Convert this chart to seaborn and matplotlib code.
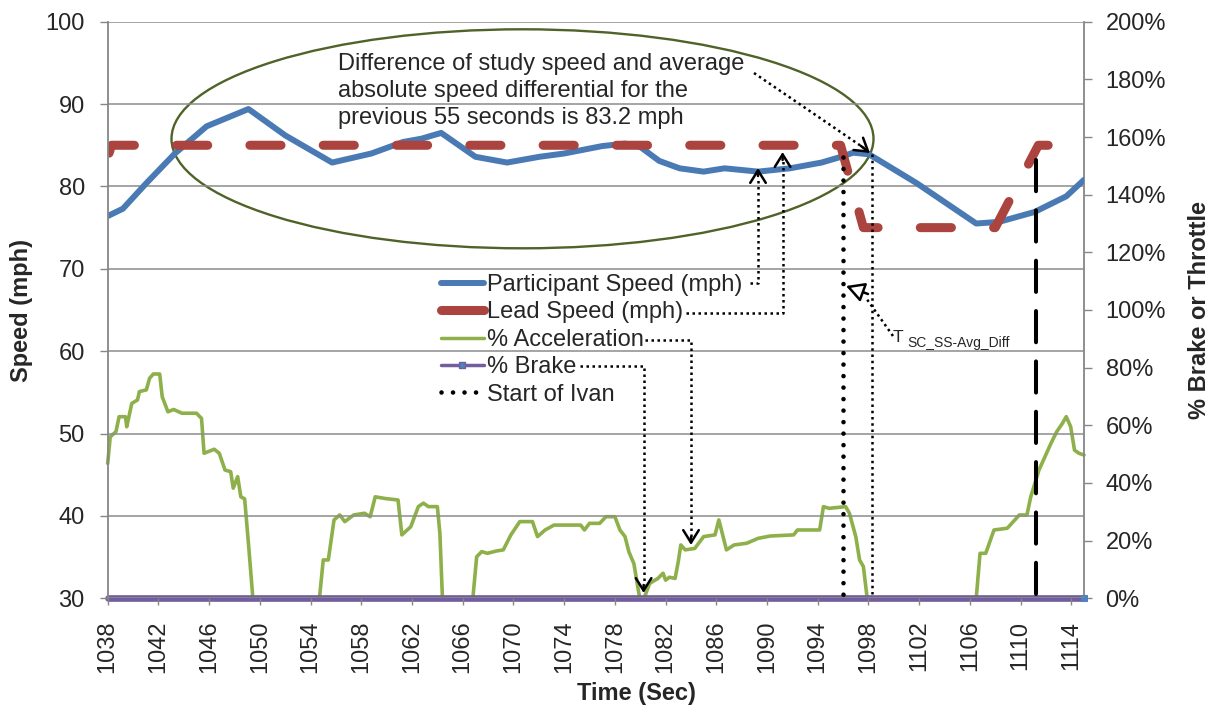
import matplotlib
matplotlib.use('Agg')
import matplotlib.pyplot as plt
import seaborn as sns
from matplotlib.lines import Line2D
from matplotlib.patches import Ellipse

# ---- data ----
time_speed = [1038.0, 1039.2, 1041.05, 1043.3, 1045.8, 1049.1, 1052.0, 1055.7, 1058.8, 1061.3,
              1062.75, 1064.3, 1067.0, 1069.5, 1072.05, 1074.0, 1077.0, 1078.8, 1080.0, 1081.5,
              1083.1, 1085.0, 1086.65, 1089.3, 1091.8, 1094.3, 1095.85, 1096.8, 1098.05, 1101.8,
              1106.5, 1108.3, 1111.1, 1113.6, 1115.0]
participant_speed = [76.4, 77.3, 80.4, 84.0, 87.3, 89.4, 86.2, 82.9, 84.0, 85.4,
                     85.8, 86.5, 83.6, 82.9, 83.6, 84.0, 84.9, 85.2, 84.8, 83.1,
                     82.2, 81.8, 82.2, 81.8, 82.2, 82.9, 83.6, 84.1, 83.9, 80.4,
                     75.5, 75.7, 76.9, 78.8, 80.8]

time_lead = [1038.0, 1038.3, 1095.8, 1097.6, 1108.0, 1111.4, 1115.0]
lead_speed = [83.5, 85.0, 85.0, 75.0, 75.0, 85.0, 85.0]

time_accel = [1038.0, 1038.2, 1038.65, 1038.9, 1039.4, 1039.5, 1039.9, 1040.35, 1040.5, 1041.05,
              1041.3, 1041.6, 1042.1, 1042.3, 1042.75, 1043.2, 1043.85, 1045.0, 1045.4, 1045.6,
              1046.4, 1046.8, 1047.25, 1047.7, 1047.9, 1048.25, 1048.5, 1048.8, 1049.1, 1049.45,
              1054.7, 1055.0, 1055.4, 1055.85, 1056.3, 1056.7, 1057.4, 1058.25, 1058.7, 1059.1,
              1059.9, 1060.9, 1061.2, 1061.9, 1062.5, 1062.9, 1063.3, 1064.0, 1064.2, 1064.4,
              1066.8, 1067.1, 1067.5, 1067.95, 1068.65, 1069.2, 1069.8, 1070.5, 1071.5, 1071.9,
              1072.5, 1073.2, 1075.3, 1075.6, 1076.0, 1076.8, 1077.3, 1078.0, 1078.4, 1078.8,
              1079.1, 1079.5, 1079.95, 1080.3, 1080.75, 1081.4, 1081.8, 1082.0, 1082.3, 1082.75,
              1083.0, 1083.2, 1083.55, 1084.3, 1085.0, 1085.9, 1086.2, 1086.5, 1086.8, 1087.4,
              1088.4, 1089.3, 1090.25, 1092.1, 1092.4, 1094.15, 1094.45, 1094.9, 1096.2, 1096.5,
              1097.0, 1097.3, 1097.6, 1097.9, 1106.5, 1106.8, 1107.25, 1107.9, 1108.95, 1109.3,
              1109.9, 1110.5, 1110.8, 1111.45, 1112.4, 1112.85, 1113.3, 1113.6, 1113.95, 1114.25,
              1114.6, 1115.0]
accel_pct = [46.8, 56.0, 57.8, 63.0, 63.0, 59.5, 67.6, 68.8, 71.7, 72.3,
             76.3, 77.8, 77.8, 69.9, 64.7, 65.5, 64.2, 64.2, 62.4, 50.3,
             51.7, 50.3, 44.5, 43.9, 38.2, 42.2, 35.2, 34.5, 19.1, 0.0,
             0.0, 13.3, 13.3, 27.2, 28.9, 26.6, 28.9, 29.5, 28.3, 35.2,
             34.6, 34.1, 22.0, 24.8, 31.8, 33.0, 31.8, 31.8, 22.5, 0.0,
             0.0, 14.4, 16.2, 15.6, 16.4, 16.8, 22.0, 26.6, 26.6, 21.4,
             23.7, 25.4, 25.4, 23.7, 26.0, 26.0, 28.3, 28.3, 23.7, 21.4,
             16.2, 12.0, 0.3, 0.0, 5.2, 6.9, 8.7, 6.3, 7.3, 6.9,
             12.7, 18.5, 16.8, 17.3, 21.4, 22.0, 27.2, 22.0, 16.8, 18.5,
             19.1, 20.8, 21.6, 22.0, 23.7, 23.7, 31.8, 31.2, 31.8, 29.5,
             21.4, 13.3, 11.0, 0.0, 0.0, 15.6, 15.6, 23.7, 24.3, 26.0,
             28.9, 28.9, 35.2, 44.5, 53.8, 57.8, 60.7, 63.0, 59.5, 51.4,
             50.3, 49.7]

time_brake = [1038.0, 1115.0]
brake_pct = [0.0, 0.0]

ivan_time = [1096.0, 1096.0]
ivan_speed = [83.6, 30.0]
study_time = [1111.2, 1111.2]
study_speed = [83.2, 30.0]
tsc_time = [1098.3, 1098.3]
tsc_speed = [83.9, 30.0]

x_ticks = list(range(1038, 1115, 4))
speed_ticks = list(range(30, 101, 10))
pct_ticks = list(range(0, 201, 20))

legend_labels = ['Participant Speed (mph)', 'Lead Speed (mph)', '% Acceleration',
                 '% Brake', 'Start of Ivan']
note_text = ('Difference of study speed and average\n'
             'absolute speed differential for the\n'
             'previous 55 seconds is 83.2 mph')

BLUE = '#4a7ab4'
RED = '#ab433e'
GREEN = '#8db04a'
PURPLE = '#725e9c'
OLIVE = '#4f6228'
GRID = '#8c8c8c'
AXIS = '#868686'

W, H = 1220, 708


def fp(x, y):
    # reference pixel -> figure fraction
    return (x / W, 1 - y / H)


sns.set_style('white')
plt.rcParams['font.family'] = ['Liberation Sans', 'DejaVu Sans']

fig = plt.figure(figsize=(W / 100, H / 100), dpi=100)
left, right, top, bottom = 107.7, 1084.0, 21.7, 598.3
ax = fig.add_axes([left / W, 1 - bottom / H, (right - left) / W, (bottom - top) / H])
ax2 = ax.twinx()
ax.set_zorder(ax2.get_zorder() + 1)
ax.patch.set_visible(False)

# secondary axis series (percent)
sns.lineplot(x=time_accel, y=accel_pct, ax=ax2, color=GREEN, lw=2.6,
             estimator=None, sort=False)
sns.lineplot(x=time_brake, y=brake_pct, ax=ax2, color=PURPLE, lw=4.8,
             estimator=None, sort=False, marker='s', markersize=4.5, markevery=[1],
             markerfacecolor='#4f81bd', markeredgecolor='#4f81bd')
for ln in ax2.lines:
    ln.set_clip_on(False)
ax2.lines[-1].set_zorder(3)

# primary axis series (mph)
sns.lineplot(x=time_speed, y=participant_speed, ax=ax, color=BLUE, lw=4.3,
             estimator=None, sort=False)
sns.lineplot(x=time_lead, y=lead_speed, ax=ax, color=RED, lw=6.5,
             estimator=None, sort=False)
ax.lines[-1].set_linestyle((7.6, (3.45, 4.67)))
ax.lines[-1].set_dash_capstyle('round')
sns.lineplot(x=ivan_time, y=ivan_speed, ax=ax, color='black', lw=3.3,
             estimator=None, sort=False)
ax.lines[-1].set_linestyle((0, (0.01, 2.5)))
ax.lines[-1].set_dash_capstyle('round')
sns.lineplot(x=study_time, y=study_speed, ax=ax, color='black', lw=2.9,
             estimator=None, sort=False)
ax.lines[-1].set_linestyle((0, (7.75, 4.75)))
ax.lines[-1].set_dash_capstyle('round')
sns.lineplot(x=tsc_time, y=tsc_speed, ax=ax, color='black', lw=1.8,
             estimator=None, sort=False)
ax.lines[-1].set_linestyle((0, (1, 1.5)))

# axes styling
ax.set_xlim(1038, 1115)
ax.set_ylim(30, 100)
ax2.set_ylim(0, 200)
ax.set_xticks(x_ticks)
ax.set_xticklabels([str(t) for t in x_ticks], rotation=90)
ax.set_yticks(speed_ticks)
ax2.set_yticks(pct_ticks)
ax2.set_yticklabels([f'{p}%' for p in pct_ticks])
ax.yaxis.grid(True, color=GRID, lw=1.1)
ax.xaxis.grid(False)

for a in (ax, ax2):
    for s in a.spines.values():
        s.set_visible(False)
ax.spines['left'].set_visible(True)
ax2.spines['bottom'].set_visible(True)
ax2.spines['right'].set_visible(True)
for s in (ax.spines['left'], ax2.spines['bottom'], ax2.spines['right']):
    s.set_color(AXIS)
    s.set_linewidth(1.3)

ax.tick_params(axis='y', direction='out', length=5.5, width=1, color=AXIS,
               labelsize=17, pad=11, left=True)
ax.tick_params(axis='x', direction='out', length=5, width=1, color=AXIS,
               labelsize=17, pad=11, bottom=True)
ax2.tick_params(axis='y', direction='out', length=5.5, width=1, color=AXIS,
                labelsize=17, pad=10, right=True)

ax.set_xlabel('Time (Sec)', fontsize=17, fontweight='bold')
ax.xaxis.set_label_coords((636 - left) / (right - left), (bottom - 682) / (bottom - top))
ax.set_ylabel('Speed (mph)', fontsize=17, fontweight='bold')
ax.yaxis.set_label_coords((33 - left) / (right - left), 0.5)
ax2.set_ylabel('% Brake or Throttle', fontsize=17, fontweight='bold')
ax2.yaxis.set_label_coords((1188 - left) / (right - left), 0.5)

# legend
handles = [
    Line2D([], [], color=BLUE, lw=4.3),
    Line2D([], [], color=RED, lw=6.5, solid_capstyle='round'),
    Line2D([], [], color=GREEN, lw=2.5),
    Line2D([], [], color=PURPLE, lw=2.5, marker='s', markersize=4.5,
           markerfacecolor='#4f81bd', markeredgecolor=PURPLE),
    Line2D([], [], color='black', lw=3.3, ls=(0, (0.01, 2.5)), dash_capstyle='round'),
]
ax.legend(handles, legend_labels, loc='upper left', bbox_to_anchor=fp(441, 274),
          bbox_transform=fig.transFigure, frameon=False, fontsize=17,
          handlelength=1.8, handletextpad=0.15, labelspacing=0.23,
          borderpad=0, borderaxespad=0)

# annotations
fig.add_artist(Ellipse(fp(522.5, 138.8), 702 / W, 219 / H, transform=fig.transFigure,
                       fill=False, ec=OLIVE, lw=1.7))
fig.text(*fp(338, 53), note_text, fontsize=17, va='top', ha='left', linespacing=1.3)

dot = dict(color='black', lw=1.8, ls=(0, (1, 1.4)))


def dotted(points):
    xs = [fp(x, y)[0] for x, y in points]
    ys = [fp(x, y)[1] for x, y in points]
    fig.add_artist(Line2D(xs, ys, transform=fig.transFigure, **dot))


def head(tail, tip, style='->,head_length=0.45,head_width=0.28', fc='black'):
    ax.annotate('', xy=fp(*tip), xytext=fp(*tail), xycoords='figure fraction',
                textcoords='figure fraction',
                arrowprops=dict(arrowstyle=style, lw=1.8, color='black', fc=fc,
                                mutation_scale=20, shrinkA=0, shrinkB=0))


dotted([(754, 73), (864, 148)])
head((861, 146), (870, 153))
dotted([(750, 283), (758, 283), (758, 178)])
head((758, 176), (758, 168))
dotted([(686, 313), (782.6, 313), (782.6, 160)])
head((782.6, 160), (782.6, 152))
dotted([(645, 340), (691, 340), (691, 537)])
head((691, 537), (691, 545))
dotted([(580, 366), (643.6, 366), (643.6, 585)])
head((643.6, 585), (643.6, 593))
dotted([(893, 336), (866, 298)])
head((868, 294), (846, 286), style='-|>,head_length=0.55,head_width=0.3', fc='white')

fig.text(*fp(893, 341.7), 'T', fontsize=12.5, va='baseline', ha='left')
fig.text(*fp(907, 347), 'SC_SS-Avg_Diff', fontsize=10, va='baseline', ha='left')

fig.savefig('out.png', dpi=100)
